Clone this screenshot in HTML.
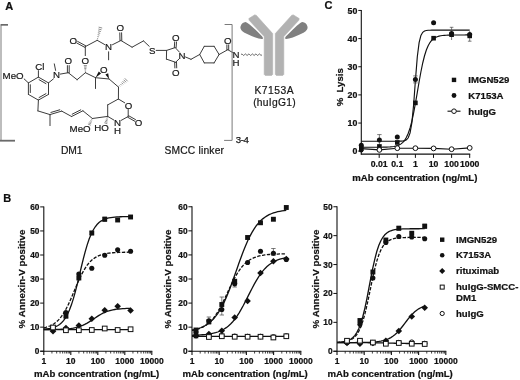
<!DOCTYPE html>
<html><head><meta charset="utf-8"><title>Figure</title>
<style>
html,body{margin:0;padding:0;background:#fff;}
svg{display:block;font-family:"Liberation Sans",sans-serif;}
</style></head><body>
<svg width="520" height="380" viewBox="0 0 520 380">
<rect width="520" height="380" fill="#fff"/>
<g id="structure">
<line x1="28.4" y1="82.9" x2="38.4" y2="77.1" stroke="#3c3c3c" stroke-width="1.0" stroke-linecap="round"/>
<line x1="38.4" y1="77.1" x2="48.5" y2="82.9" stroke="#3c3c3c" stroke-width="1.0" stroke-linecap="round"/>
<line x1="48.5" y1="82.9" x2="48.5" y2="94.4" stroke="#3c3c3c" stroke-width="1.0" stroke-linecap="round"/>
<line x1="48.5" y1="94.4" x2="38.4" y2="100.1" stroke="#3c3c3c" stroke-width="1.0" stroke-linecap="round"/>
<line x1="38.4" y1="100.1" x2="28.4" y2="94.4" stroke="#3c3c3c" stroke-width="1.0" stroke-linecap="round"/>
<line x1="28.4" y1="94.4" x2="28.4" y2="82.9" stroke="#3c3c3c" stroke-width="1.0" stroke-linecap="round"/>
<line x1="39.07" y1="79.68" x2="45.94" y2="83.62" stroke="#3c3c3c" stroke-width="1.0" stroke-linecap="round"/>
<line x1="45.95" y1="93.66" x2="39.08" y2="97.53" stroke="#3c3c3c" stroke-width="1.0" stroke-linecap="round"/>
<line x1="30.3" y1="92.56" x2="30.3" y2="84.74" stroke="#3c3c3c" stroke-width="1.0" stroke-linecap="round"/>
<text x="23.6" y="79.07" font-size="9.7" text-anchor="end" fill="#161616" stroke="#161616" stroke-width="0.2">MeO</text>
<line x1="24.2" y1="79" x2="28.4" y2="82.9" stroke="#3c3c3c" stroke-width="1.0" stroke-linecap="round"/>
<text x="39.8" y="69.57" font-size="9.7" text-anchor="middle" fill="#161616" stroke="#161616" stroke-width="0.2">Cl</text>
<line x1="38.4" y1="77.1" x2="38.4" y2="70.6" stroke="#3c3c3c" stroke-width="1.0" stroke-linecap="round"/>
<text x="56.6" y="78.47" font-size="9.7" text-anchor="middle" fill="#161616" stroke="#161616" stroke-width="0.2">N</text>
<line x1="48.5" y1="82.9" x2="53.4" y2="78.9" stroke="#3c3c3c" stroke-width="1.0" stroke-linecap="round"/>
<line x1="55.6" y1="70.4" x2="54.3" y2="63.9" stroke="#3c3c3c" stroke-width="1.0" stroke-linecap="round"/>
<line x1="60.3" y1="74.1" x2="68.3" y2="72.7" stroke="#3c3c3c" stroke-width="1.0" stroke-linecap="round"/>
<text x="68.3" y="64.07" font-size="9.7" text-anchor="middle" fill="#161616" stroke="#161616" stroke-width="0.2">O</text>
<line x1="69.2" y1="72.7" x2="69.2" y2="65.6" stroke="#3c3c3c" stroke-width="1.0" stroke-linecap="round"/>
<line x1="67.4" y1="72.7" x2="67.4" y2="65.6" stroke="#3c3c3c" stroke-width="1.0" stroke-linecap="round"/>
<line x1="68.3" y1="72.7" x2="77.1" y2="79.7" stroke="#3c3c3c" stroke-width="1.0" stroke-linecap="round"/>
<line x1="77.1" y1="79.7" x2="85.4" y2="72.7" stroke="#3c3c3c" stroke-width="1.0" stroke-linecap="round"/>
<text x="85.2" y="63.97" font-size="9.7" text-anchor="middle" fill="#161616" stroke="#161616" stroke-width="0.2">O</text>
<line x1="85.89" y1="71.27" x2="84.87" y2="71.29" stroke="#6a6a6a" stroke-width="0.75"/>
<line x1="86.13" y1="69.85" x2="84.59" y2="69.87" stroke="#6a6a6a" stroke-width="0.75"/>
<line x1="86.37" y1="68.43" x2="84.31" y2="68.45" stroke="#6a6a6a" stroke-width="0.75"/>
<line x1="86.61" y1="67" x2="84.03" y2="67.04" stroke="#6a6a6a" stroke-width="0.75"/>
<line x1="86.85" y1="65.58" x2="83.75" y2="65.62" stroke="#6a6a6a" stroke-width="0.75"/>
<line x1="85.3" y1="55.6" x2="85.3" y2="46.6" stroke="#3c3c3c" stroke-width="1.0" stroke-linecap="round"/>
<text x="73.3" y="44.27" font-size="9.7" text-anchor="middle" fill="#161616" stroke="#161616" stroke-width="0.2">O</text>
<line x1="85.73" y1="45.81" x2="77.63" y2="41.41" stroke="#3c3c3c" stroke-width="1.0" stroke-linecap="round"/>
<line x1="84.87" y1="47.39" x2="76.77" y2="42.99" stroke="#3c3c3c" stroke-width="1.0" stroke-linecap="round"/>
<line x1="85.3" y1="46.6" x2="97.2" y2="40.3" stroke="#3c3c3c" stroke-width="1.0" stroke-linecap="round"/>
<line x1="98.12" y1="38.6" x2="97.19" y2="38.37" stroke="#6a6a6a" stroke-width="0.75"/>
<line x1="98.8" y1="36.84" x2="97.43" y2="36.5" stroke="#6a6a6a" stroke-width="0.75"/>
<line x1="99.48" y1="35.09" x2="97.66" y2="34.63" stroke="#6a6a6a" stroke-width="0.75"/>
<line x1="100.16" y1="33.33" x2="97.9" y2="32.76" stroke="#6a6a6a" stroke-width="0.75"/>
<line x1="100.84" y1="31.57" x2="98.14" y2="30.89" stroke="#6a6a6a" stroke-width="0.75"/>
<line x1="101.52" y1="29.81" x2="98.37" y2="29.02" stroke="#6a6a6a" stroke-width="0.75"/>
<line x1="102.19" y1="28.05" x2="98.61" y2="27.15" stroke="#6a6a6a" stroke-width="0.75"/>
<text x="108.6" y="49.97" font-size="9.7" text-anchor="middle" fill="#161616" stroke="#161616" stroke-width="0.2">N</text>
<line x1="97.2" y1="40.3" x2="104.6" y2="44.5" stroke="#3c3c3c" stroke-width="1.0" stroke-linecap="round"/>
<line x1="108.6" y1="51.8" x2="108.6" y2="59.8" stroke="#3c3c3c" stroke-width="1.0" stroke-linecap="round"/>
<line x1="112.5" y1="44.7" x2="120.9" y2="40.5" stroke="#3c3c3c" stroke-width="1.0" stroke-linecap="round"/>
<text x="120.3" y="30.97" font-size="9.7" text-anchor="middle" fill="#161616" stroke="#161616" stroke-width="0.2">O</text>
<line x1="121.8" y1="40.48" x2="121.6" y2="32.78" stroke="#3c3c3c" stroke-width="1.0" stroke-linecap="round"/>
<line x1="120" y1="40.52" x2="119.8" y2="32.82" stroke="#3c3c3c" stroke-width="1.0" stroke-linecap="round"/>
<line x1="120.9" y1="40.5" x2="132.1" y2="47.2" stroke="#3c3c3c" stroke-width="1.0" stroke-linecap="round"/>
<line x1="132.1" y1="47.2" x2="143.5" y2="40.9" stroke="#3c3c3c" stroke-width="1.0" stroke-linecap="round"/>
<line x1="143.5" y1="40.9" x2="149.2" y2="46.3" stroke="#3c3c3c" stroke-width="1.0" stroke-linecap="round"/>
<text x="152.3" y="53.77" font-size="9.7" text-anchor="middle" fill="#161616" stroke="#161616" stroke-width="0.2">S</text>
<line x1="156.2" y1="50.4" x2="166.6" y2="50.4" stroke="#3c3c3c" stroke-width="1.0" stroke-linecap="round"/>
<line x1="166.6" y1="50.4" x2="175.2" y2="47.6" stroke="#3c3c3c" stroke-width="1.0" stroke-linecap="round"/>
<line x1="166.6" y1="50.4" x2="166.4" y2="59.1" stroke="#3c3c3c" stroke-width="1.0" stroke-linecap="round"/>
<line x1="166.4" y1="59.1" x2="175.6" y2="62.3" stroke="#3c3c3c" stroke-width="1.0" stroke-linecap="round"/>
<text x="182.1" y="58.67" font-size="9.7" text-anchor="middle" fill="#161616" stroke="#161616" stroke-width="0.2">N</text>
<line x1="175.2" y1="47.6" x2="179.5" y2="52.2" stroke="#3c3c3c" stroke-width="1.0" stroke-linecap="round"/>
<line x1="175.6" y1="62.3" x2="179.6" y2="58.4" stroke="#3c3c3c" stroke-width="1.0" stroke-linecap="round"/>
<text x="175.8" y="40.77" font-size="9.7" text-anchor="middle" fill="#161616" stroke="#161616" stroke-width="0.2">O</text>
<line x1="176.1" y1="47.66" x2="176.5" y2="41.96" stroke="#3c3c3c" stroke-width="1.0" stroke-linecap="round"/>
<line x1="174.3" y1="47.54" x2="174.7" y2="41.84" stroke="#3c3c3c" stroke-width="1.0" stroke-linecap="round"/>
<text x="175.8" y="75.77" font-size="9.7" text-anchor="middle" fill="#161616" stroke="#161616" stroke-width="0.2">O</text>
<line x1="174.7" y1="62.33" x2="174.9" y2="67.93" stroke="#3c3c3c" stroke-width="1.0" stroke-linecap="round"/>
<line x1="176.5" y1="62.27" x2="176.7" y2="67.87" stroke="#3c3c3c" stroke-width="1.0" stroke-linecap="round"/>
<line x1="185.5" y1="57" x2="191" y2="59.3" stroke="#3c3c3c" stroke-width="1.0" stroke-linecap="round"/>
<line x1="191" y1="59.3" x2="199.7" y2="54.5" stroke="#3c3c3c" stroke-width="1.0" stroke-linecap="round"/>
<line x1="199.7" y1="54.5" x2="204.3" y2="46.3" stroke="#3c3c3c" stroke-width="1.0" stroke-linecap="round"/>
<line x1="204.3" y1="46.3" x2="214.1" y2="46.3" stroke="#3c3c3c" stroke-width="1.0" stroke-linecap="round"/>
<line x1="214.1" y1="46.3" x2="219.1" y2="54.5" stroke="#3c3c3c" stroke-width="1.0" stroke-linecap="round"/>
<line x1="219.1" y1="54.5" x2="214.1" y2="62.9" stroke="#3c3c3c" stroke-width="1.0" stroke-linecap="round"/>
<line x1="214.1" y1="62.9" x2="204.3" y2="62.9" stroke="#3c3c3c" stroke-width="1.0" stroke-linecap="round"/>
<line x1="204.3" y1="62.9" x2="199.7" y2="54.5" stroke="#3c3c3c" stroke-width="1.0" stroke-linecap="round"/>
<line x1="219.1" y1="54.5" x2="227.8" y2="49.7" stroke="#3c3c3c" stroke-width="1.0" stroke-linecap="round"/>
<text x="227.8" y="43.57" font-size="9.7" text-anchor="middle" fill="#161616" stroke="#161616" stroke-width="0.2">O</text>
<line x1="228.7" y1="49.7" x2="228.7" y2="44.8" stroke="#3c3c3c" stroke-width="1.0" stroke-linecap="round"/>
<line x1="226.9" y1="49.7" x2="226.9" y2="44.8" stroke="#3c3c3c" stroke-width="1.0" stroke-linecap="round"/>
<text x="236" y="57.67" font-size="9.7" text-anchor="middle" fill="#161616" stroke="#161616" stroke-width="0.2">N</text>
<text x="236" y="65.67" font-size="9.7" text-anchor="middle" fill="#161616" stroke="#161616" stroke-width="0.2">H</text>
<line x1="227.8" y1="49.7" x2="232.6" y2="52.5" stroke="#3c3c3c" stroke-width="1.0" stroke-linecap="round"/>
<path d="M241 54.7 Q241.88 53.2 242.75 54.7 Q243.62 56.2 244.5 54.7 Q245.38 53.2 246.25 54.7 Q247.12 56.2 248 54.7 Q248.88 53.2 249.75 54.7 Q250.62 56.2 251.5 54.7 Q252.38 53.2 253.25 54.7 Q254.12 56.2 255 54.7 Q255.88 53.2 256.75 54.7 Q257.62 56.2 258.5 54.7 Q259.38 53.2 260.25 54.7 Q261.12 56.2 262 54.7" fill="none" stroke="#3c3c3c" stroke-width="0.8"/>
<line x1="85.4" y1="72.7" x2="95.5" y2="77.7" stroke="#3c3c3c" stroke-width="1.0" stroke-linecap="round"/>
<line x1="95.5" y1="77.7" x2="95.5" y2="88.5" stroke="#3c3c3c" stroke-width="1.0" stroke-linecap="round"/>
<line x1="95.5" y1="77.7" x2="109.1" y2="79" stroke="#3c3c3c" stroke-width="1.0" stroke-linecap="round"/>
<text x="103.8" y="72.77" font-size="9.7" text-anchor="middle" fill="#161616" stroke="#161616" stroke-width="0.2">O</text>
<path d="M95.5 77.7L101.04 73.58L98.76 71.62Z" fill="#111"/>
<path d="M109.1 79L108.17 73.28L105.43 74.52Z" fill="#111"/>
<line x1="109.1" y1="79" x2="118.5" y2="87.1" stroke="#3c3c3c" stroke-width="1.0" stroke-linecap="round"/>
<line x1="120.16" y1="86.28" x2="119.4" y2="85.48" stroke="#6a6a6a" stroke-width="0.75"/>
<line x1="121.65" y1="85.28" x2="120.48" y2="84.05" stroke="#6a6a6a" stroke-width="0.75"/>
<line x1="123.14" y1="84.28" x2="121.56" y2="82.62" stroke="#6a6a6a" stroke-width="0.75"/>
<line x1="124.63" y1="83.29" x2="122.64" y2="81.18" stroke="#6a6a6a" stroke-width="0.75"/>
<line x1="126.12" y1="82.29" x2="123.71" y2="79.75" stroke="#6a6a6a" stroke-width="0.75"/>
<line x1="127.61" y1="81.29" x2="124.79" y2="78.31" stroke="#6a6a6a" stroke-width="0.75"/>
<line x1="118.5" y1="87.1" x2="118.4" y2="99" stroke="#3c3c3c" stroke-width="1.0" stroke-linecap="round"/>
<text x="128.6" y="108.87" font-size="9.7" text-anchor="middle" fill="#161616" stroke="#161616" stroke-width="0.2">O</text>
<line x1="118.4" y1="99" x2="124.7" y2="102.8" stroke="#3c3c3c" stroke-width="1.0" stroke-linecap="round"/>
<line x1="128.2" y1="109" x2="128.2" y2="116.5" stroke="#3c3c3c" stroke-width="1.0" stroke-linecap="round"/>
<text x="117.5" y="126.17" font-size="9.7" text-anchor="middle" fill="#161616" stroke="#161616" stroke-width="0.2">N</text>
<text x="117.5" y="133.67" font-size="9.7" text-anchor="middle" fill="#161616" stroke="#161616" stroke-width="0.2">H</text>
<line x1="128.2" y1="116.5" x2="121.3" y2="120.3" stroke="#3c3c3c" stroke-width="1.0" stroke-linecap="round"/>
<line x1="113.8" y1="120" x2="107.7" y2="116.4" stroke="#3c3c3c" stroke-width="1.0" stroke-linecap="round"/>
<line x1="107.7" y1="116.4" x2="107.7" y2="104.9" stroke="#3c3c3c" stroke-width="1.0" stroke-linecap="round"/>
<line x1="107.7" y1="104.9" x2="118.4" y2="99" stroke="#3c3c3c" stroke-width="1.0" stroke-linecap="round"/>
<text x="138.6" y="126.17" font-size="9.7" text-anchor="middle" fill="#161616" stroke="#161616" stroke-width="0.2">O</text>
<line x1="127.76" y1="117.28" x2="134.66" y2="121.18" stroke="#3c3c3c" stroke-width="1.0" stroke-linecap="round"/>
<line x1="128.64" y1="115.72" x2="135.54" y2="119.62" stroke="#3c3c3c" stroke-width="1.0" stroke-linecap="round"/>
<text x="101.6" y="131.17" font-size="9.7" text-anchor="middle" fill="#161616" stroke="#161616" stroke-width="0.2">HO</text>
<line x1="106.83" y1="117.62" x2="107.81" y2="117.9" stroke="#6a6a6a" stroke-width="0.75"/>
<line x1="106.2" y1="118.91" x2="107.68" y2="119.33" stroke="#6a6a6a" stroke-width="0.75"/>
<line x1="105.57" y1="120.2" x2="107.55" y2="120.76" stroke="#6a6a6a" stroke-width="0.75"/>
<line x1="104.94" y1="121.49" x2="107.42" y2="122.19" stroke="#6a6a6a" stroke-width="0.75"/>
<line x1="104.31" y1="122.78" x2="107.29" y2="123.62" stroke="#6a6a6a" stroke-width="0.75"/>
<line x1="107.7" y1="116.4" x2="92.4" y2="118.5" stroke="#3c3c3c" stroke-width="1.0" stroke-linecap="round"/>
<line x1="91.33" y1="119.49" x2="92.23" y2="119.95" stroke="#6a6a6a" stroke-width="0.75"/>
<line x1="90.47" y1="120.59" x2="91.85" y2="121.29" stroke="#6a6a6a" stroke-width="0.75"/>
<line x1="89.62" y1="121.69" x2="91.46" y2="122.63" stroke="#6a6a6a" stroke-width="0.75"/>
<line x1="88.77" y1="122.8" x2="91.07" y2="123.96" stroke="#6a6a6a" stroke-width="0.75"/>
<line x1="87.92" y1="123.9" x2="90.68" y2="125.3" stroke="#6a6a6a" stroke-width="0.75"/>
<text x="90.6" y="131.87" font-size="9.7" text-anchor="end" fill="#161616" stroke="#161616" stroke-width="0.2">MeO</text>
<line x1="92.4" y1="118.5" x2="82.9" y2="110.8" stroke="#3c3c3c" stroke-width="1.0" stroke-linecap="round"/>
<line x1="82.9" y1="110.8" x2="71.6" y2="116.5" stroke="#3c3c3c" stroke-width="1.0" stroke-linecap="round"/>
<line x1="80.73" y1="109.88" x2="72.15" y2="114.21" stroke="#3c3c3c" stroke-width="1.0" stroke-linecap="round"/>
<line x1="71.6" y1="116.5" x2="61.7" y2="111.1" stroke="#3c3c3c" stroke-width="1.0" stroke-linecap="round"/>
<line x1="61.7" y1="111.1" x2="50" y2="114.6" stroke="#3c3c3c" stroke-width="1.0" stroke-linecap="round"/>
<line x1="59.78" y1="109.8" x2="50.89" y2="112.46" stroke="#3c3c3c" stroke-width="1.0" stroke-linecap="round"/>
<line x1="50" y1="114.6" x2="50" y2="125.6" stroke="#3c3c3c" stroke-width="1.0" stroke-linecap="round"/>
<line x1="50" y1="114.6" x2="37.9" y2="110.9" stroke="#3c3c3c" stroke-width="1.0" stroke-linecap="round"/>
<line x1="37.9" y1="110.9" x2="38.4" y2="100.1" stroke="#3c3c3c" stroke-width="1.0" stroke-linecap="round"/>
<rect x="0" y="24.3" width="2" height="116.4" fill="#bdbdbd"/>
<rect x="0.8" y="24" width="7.2" height="1.7" fill="#6a6a6a"/>
<rect x="0" y="139.8" width="15" height="1.8" fill="#6a6a6a"/>
<path d="M224.6 24.5H232.1V140.4H224.1" fill="none" stroke="#7a7a7a" stroke-width="1"/>
<text x="235.8" y="142.8" font-size="9.7" fill="#161616" stroke="#161616" stroke-width="0.25" textLength="13">3-4</text>
<text x="71.8" y="154" font-size="10.3" text-anchor="middle" fill="#161616" stroke="#161616" stroke-width="0.2" textLength="21.5">DM1</text>
<text x="194.2" y="154" font-size="10.3" text-anchor="middle" fill="#161616" stroke="#161616" stroke-width="0.2" textLength="59.6">SMCC linker</text>
<text x="274" y="93.5" font-size="10.3" text-anchor="middle" fill="#161616" stroke="#161616" stroke-width="0.2" textLength="39">K7153A</text>
<text x="274.4" y="105.6" font-size="10.3" text-anchor="middle" fill="#161616" stroke="#161616" stroke-width="0.2" textLength="42.5">(huIgG1)</text>
<path d="M249.2 20.3 L248.8 18.6 L254.6 14.9 L256.2 15.2 L272.7 33.6 L272.7 74.4 L271.7 75.4 L265.2 75.4 L264.2 74.4 L264.2 36.6Z" fill="#b2b2b2" stroke="#b2b2b2" stroke-width="0.6" stroke-linejoin="round"/>
<path d="M245.6 21.9 Q248.5 22.3 262.2 36.6 Q263.6 38.6 262.4 39 Q258 39.4 244.5 32.8 Q239.4 29.6 240.6 26.2 Q241.8 22.2 245.6 21.9Z" fill="#808080"/>
<path d="M298.8 20.3 L299.2 18.6 L293.4 14.9 L291.8 15.2 L275.3 33.6 L275.3 74.4 L276.3 75.4 L282.8 75.4 L283.8 74.4 L283.8 36.6Z" fill="#b2b2b2" stroke="#b2b2b2" stroke-width="0.6" stroke-linejoin="round"/>
<path d="M302.4 21.9 Q299.5 22.3 285.8 36.6 Q284.4 38.6 285.6 39 Q290 39.4 303.5 32.8 Q308.6 29.6 307.4 26.2 Q306.2 22.2 302.4 21.9Z" fill="#808080"/>
</g>
<g id="charts">
<line x1="43.8" y1="206.4" x2="43.8" y2="351.7" stroke="#111" stroke-width="1.1" />
<line x1="40.2" y1="351.2" x2="43.8" y2="351.2" stroke="#111" stroke-width="1" />
<text x="39.4" y="354.2" font-size="8.3" font-weight="bold" text-anchor="end" fill="#111" stroke="#111" stroke-width="0.22" >0</text>
<line x1="40.2" y1="327.15" x2="43.8" y2="327.15" stroke="#111" stroke-width="1" />
<text x="39.4" y="330.15" font-size="8.3" font-weight="bold" text-anchor="end" fill="#111" stroke="#111" stroke-width="0.22" >10</text>
<line x1="40.2" y1="303.1" x2="43.8" y2="303.1" stroke="#111" stroke-width="1" />
<text x="39.4" y="306.1" font-size="8.3" font-weight="bold" text-anchor="end" fill="#111" stroke="#111" stroke-width="0.22" >20</text>
<line x1="40.2" y1="279.05" x2="43.8" y2="279.05" stroke="#111" stroke-width="1" />
<text x="39.4" y="282.05" font-size="8.3" font-weight="bold" text-anchor="end" fill="#111" stroke="#111" stroke-width="0.22" >30</text>
<line x1="40.2" y1="255" x2="43.8" y2="255" stroke="#111" stroke-width="1" />
<text x="39.4" y="258" font-size="8.3" font-weight="bold" text-anchor="end" fill="#111" stroke="#111" stroke-width="0.22" >40</text>
<line x1="40.2" y1="230.95" x2="43.8" y2="230.95" stroke="#111" stroke-width="1" />
<text x="39.4" y="233.95" font-size="8.3" font-weight="bold" text-anchor="end" fill="#111" stroke="#111" stroke-width="0.22" >50</text>
<line x1="40.2" y1="206.9" x2="43.8" y2="206.9" stroke="#111" stroke-width="1" />
<text x="39.4" y="209.9" font-size="8.3" font-weight="bold" text-anchor="end" fill="#111" stroke="#111" stroke-width="0.22" >60</text>
<line x1="40.2" y1="351.2" x2="152.3" y2="351.2" stroke="#111" stroke-width="1.1" />
<line x1="43.8" y1="351.2" x2="43.8" y2="354.9" stroke="#111" stroke-width="1.1" />
<text x="43.8" y="364" font-size="8.5" font-weight="bold" text-anchor="middle" fill="#111" stroke="#111" stroke-width="0.22" >1</text>
<line x1="51.93" y1="351.2" x2="51.93" y2="353.5" stroke="#111" stroke-width="0.8" />
<line x1="56.68" y1="351.2" x2="56.68" y2="353.5" stroke="#111" stroke-width="0.8" />
<line x1="60.06" y1="351.2" x2="60.06" y2="353.5" stroke="#111" stroke-width="0.8" />
<line x1="62.67" y1="351.2" x2="62.67" y2="353.5" stroke="#111" stroke-width="0.8" />
<line x1="64.81" y1="351.2" x2="64.81" y2="353.5" stroke="#111" stroke-width="0.8" />
<line x1="66.62" y1="351.2" x2="66.62" y2="353.5" stroke="#111" stroke-width="0.8" />
<line x1="68.18" y1="351.2" x2="68.18" y2="353.5" stroke="#111" stroke-width="0.8" />
<line x1="69.56" y1="351.2" x2="69.56" y2="353.5" stroke="#111" stroke-width="0.8" />
<line x1="70.8" y1="351.2" x2="70.8" y2="354.9" stroke="#111" stroke-width="1.1" />
<text x="70.8" y="364" font-size="8.5" font-weight="bold" text-anchor="middle" fill="#111" stroke="#111" stroke-width="0.22" >10</text>
<line x1="78.93" y1="351.2" x2="78.93" y2="353.5" stroke="#111" stroke-width="0.8" />
<line x1="83.68" y1="351.2" x2="83.68" y2="353.5" stroke="#111" stroke-width="0.8" />
<line x1="87.06" y1="351.2" x2="87.06" y2="353.5" stroke="#111" stroke-width="0.8" />
<line x1="89.67" y1="351.2" x2="89.67" y2="353.5" stroke="#111" stroke-width="0.8" />
<line x1="91.81" y1="351.2" x2="91.81" y2="353.5" stroke="#111" stroke-width="0.8" />
<line x1="93.62" y1="351.2" x2="93.62" y2="353.5" stroke="#111" stroke-width="0.8" />
<line x1="95.18" y1="351.2" x2="95.18" y2="353.5" stroke="#111" stroke-width="0.8" />
<line x1="96.56" y1="351.2" x2="96.56" y2="353.5" stroke="#111" stroke-width="0.8" />
<line x1="97.8" y1="351.2" x2="97.8" y2="354.9" stroke="#111" stroke-width="1.1" />
<text x="97.8" y="364" font-size="8.5" font-weight="bold" text-anchor="middle" fill="#111" stroke="#111" stroke-width="0.22" >100</text>
<line x1="105.93" y1="351.2" x2="105.93" y2="353.5" stroke="#111" stroke-width="0.8" />
<line x1="110.68" y1="351.2" x2="110.68" y2="353.5" stroke="#111" stroke-width="0.8" />
<line x1="114.06" y1="351.2" x2="114.06" y2="353.5" stroke="#111" stroke-width="0.8" />
<line x1="116.67" y1="351.2" x2="116.67" y2="353.5" stroke="#111" stroke-width="0.8" />
<line x1="118.81" y1="351.2" x2="118.81" y2="353.5" stroke="#111" stroke-width="0.8" />
<line x1="120.62" y1="351.2" x2="120.62" y2="353.5" stroke="#111" stroke-width="0.8" />
<line x1="122.18" y1="351.2" x2="122.18" y2="353.5" stroke="#111" stroke-width="0.8" />
<line x1="123.56" y1="351.2" x2="123.56" y2="353.5" stroke="#111" stroke-width="0.8" />
<line x1="124.8" y1="351.2" x2="124.8" y2="354.9" stroke="#111" stroke-width="1.1" />
<text x="124.8" y="364" font-size="8.5" font-weight="bold" text-anchor="middle" fill="#111" stroke="#111" stroke-width="0.22" >1000</text>
<line x1="132.93" y1="351.2" x2="132.93" y2="353.5" stroke="#111" stroke-width="0.8" />
<line x1="137.68" y1="351.2" x2="137.68" y2="353.5" stroke="#111" stroke-width="0.8" />
<line x1="141.06" y1="351.2" x2="141.06" y2="353.5" stroke="#111" stroke-width="0.8" />
<line x1="143.67" y1="351.2" x2="143.67" y2="353.5" stroke="#111" stroke-width="0.8" />
<line x1="145.81" y1="351.2" x2="145.81" y2="353.5" stroke="#111" stroke-width="0.8" />
<line x1="147.62" y1="351.2" x2="147.62" y2="353.5" stroke="#111" stroke-width="0.8" />
<line x1="149.18" y1="351.2" x2="149.18" y2="353.5" stroke="#111" stroke-width="0.8" />
<line x1="150.56" y1="351.2" x2="150.56" y2="353.5" stroke="#111" stroke-width="0.8" />
<line x1="151.8" y1="351.2" x2="151.8" y2="354.9" stroke="#111" stroke-width="1.1" />
<text x="151.8" y="364" font-size="8.5" font-weight="bold" text-anchor="middle" fill="#111" stroke="#111" stroke-width="0.22" >10000</text>
<text x="96.6" y="376.6" font-size="9.6" font-weight="bold" text-anchor="middle" fill="#111" stroke="#111" stroke-width="0.22" >mAb concentration (ng/mL)</text>
<text transform="translate(24.5,279) rotate(-90)" font-size="9.75" font-weight="bold" text-anchor="middle" fill="#111" stroke="#111" stroke-width="0.22">% Annexin-V positive</text>
<polyline points="43.8,329.56 45.77,329.56 47.74,329.56 49.72,329.56 51.69,329.56 53.66,329.56 55.63,329.56 57.61,329.56 59.58,329.56 61.55,329.56 63.52,329.56 65.49,329.56 67.47,329.56 69.44,329.56 71.41,329.56 73.38,329.56 75.36,329.56 77.33,329.56 79.3,329.56 81.27,329.56 83.25,329.56 85.22,329.56 87.19,329.56 89.16,329.56 91.13,329.56 93.11,329.56 95.08,329.56 97.05,329.56 99.02,329.56 101,329.56 102.97,329.56 104.94,329.56 106.91,329.56 108.88,329.56 110.86,329.56 112.83,329.56 114.8,329.56 116.77,329.56 118.75,329.56 120.72,329.56 122.69,329.56 124.66,329.56 126.64,329.56 128.61,329.56 130.58,329.56" fill="none" stroke="#111" stroke-width="1.3"/>
<polyline points="43.8,329.52 45.77,329.51 47.74,329.5 49.72,329.48 51.69,329.46 53.66,329.43 55.63,329.39 57.61,329.35 59.58,329.29 61.55,329.21 63.52,329.12 65.49,328.99 67.47,328.84 69.44,328.64 71.41,328.39 73.38,328.08 75.36,327.7 77.33,327.22 79.3,326.64 81.27,325.95 83.25,325.13 85.22,324.18 87.19,323.1 89.16,321.91 91.13,320.63 93.11,319.29 95.08,317.95 97.05,316.63 99.02,315.37 101,314.22 102.97,313.18 104.94,312.28 106.91,311.5 108.88,310.85 110.86,310.31 112.83,309.87 114.8,309.51 116.77,309.22 118.75,308.99 120.72,308.81 122.69,308.67 124.66,308.55 126.64,308.46 128.61,308.4 130.58,308.34" fill="none" stroke="#111" stroke-width="1.3"/>
<polyline points="43.8,327.81 45.77,327.35 47.74,326.76 49.72,326.02 51.69,325.1 53.66,323.96 55.63,322.56 57.61,320.84 59.58,318.77 61.55,316.3 63.52,313.41 65.49,310.07 67.47,306.3 69.44,302.15 71.41,297.7 73.38,293.05 75.36,288.33 77.33,283.69 79.3,279.25 81.27,275.12 83.25,271.38 85.22,268.07 87.19,265.2 89.16,262.76 91.13,260.71 93.11,259.02 95.08,257.63 97.05,256.5 99.02,255.6 101,254.87 102.97,254.29 104.94,253.83 106.91,253.46 108.88,253.18 110.86,252.95 112.83,252.77 114.8,252.63 116.77,252.52 118.75,252.43 120.72,252.36 122.69,252.31 124.66,252.27 126.64,252.23 128.61,252.21 130.58,252.19" fill="none" stroke="#111" stroke-width="1.3" stroke-dasharray="3.4 1.5"/>
<polyline points="43.8,329.06 45.77,328.89 47.74,328.66 49.72,328.35 51.69,327.94 53.66,327.39 55.63,326.67 57.61,325.71 59.58,324.44 61.55,322.79 63.52,320.64 65.49,317.89 67.47,314.41 69.44,310.09 71.41,304.85 73.38,298.66 75.36,291.59 77.33,283.81 79.3,275.57 81.27,267.23 83.25,259.13 85.22,251.6 87.19,244.87 89.16,239.05 91.13,234.18 93.11,230.2 95.08,227.02 97.05,224.52 99.02,222.58 101,221.09 102.97,219.96 104.94,219.1 106.91,218.45 108.88,217.96 110.86,217.59 112.83,217.32 114.8,217.12 116.77,216.96 118.75,216.85 120.72,216.77 122.69,216.7 124.66,216.66 126.64,216.62 128.61,216.6 130.58,216.58" fill="none" stroke="#111" stroke-width="1.3"/>
<line x1="104.72" y1="217.05" x2="104.72" y2="221.45" stroke="#444" stroke-width="0.7" />
<line x1="102.52" y1="217.05" x2="106.92" y2="217.05" stroke="#444" stroke-width="0.7" />
<line x1="102.52" y1="221.45" x2="106.92" y2="221.45" stroke="#444" stroke-width="0.7" />
<line x1="91.79" y1="231.2" x2="91.79" y2="234.8" stroke="#444" stroke-width="0.7" />
<line x1="89.59" y1="231.2" x2="93.99" y2="231.2" stroke="#444" stroke-width="0.7" />
<line x1="89.59" y1="234.8" x2="93.99" y2="234.8" stroke="#444" stroke-width="0.7" />
<line x1="65.93" y1="311.5" x2="65.93" y2="317.5" stroke="#444" stroke-width="0.7" />
<line x1="63.73" y1="311.5" x2="68.13" y2="311.5" stroke="#444" stroke-width="0.7" />
<line x1="63.73" y1="317.5" x2="68.13" y2="317.5" stroke="#444" stroke-width="0.7" />
<path d="M53 327.95L56.3 331.25L53 334.55L49.7 331.25Z" fill="#111"/>
<path d="M65.93 324.7L69.23 328L65.93 331.3L62.63 328Z" fill="#111"/>
<path d="M78.86 322.2L82.16 325.5L78.86 328.8L75.56 325.5Z" fill="#111"/>
<path d="M91.79 315.45L95.09 318.75L91.79 322.05L88.49 318.75Z" fill="#111"/>
<path d="M104.72 306.95L108.02 310.25L104.72 313.55L101.42 310.25Z" fill="#111"/>
<path d="M117.65 302.95L120.95 306.25L117.65 309.55L114.35 306.25Z" fill="#111"/>
<path d="M130.58 307.2L133.88 310.5L130.58 313.8L127.28 310.5Z" fill="#111"/>
<circle cx="53" cy="328" r="2.55" fill="#111"/>
<circle cx="65.93" cy="312.5" r="2.55" fill="#111"/>
<circle cx="78.86" cy="274" r="2.55" fill="#111"/>
<circle cx="91.79" cy="268.25" r="2.55" fill="#111"/>
<circle cx="104.72" cy="255.25" r="2.55" fill="#111"/>
<circle cx="117.65" cy="249.75" r="2.55" fill="#111"/>
<circle cx="130.58" cy="251.25" r="2.55" fill="#111"/>
<rect x="50.55" y="325.35" width="4.9" height="4.9" fill="#111"/>
<rect x="63.48" y="313.8" width="4.9" height="4.9" fill="#111"/>
<rect x="76.41" y="275.55" width="4.9" height="4.9" fill="#111"/>
<rect x="89.34" y="230.55" width="4.9" height="4.9" fill="#111"/>
<rect x="102.27" y="216.8" width="4.9" height="4.9" fill="#111"/>
<rect x="115.2" y="217.55" width="4.9" height="4.9" fill="#111"/>
<rect x="128.13" y="214.55" width="4.9" height="4.9" fill="#111"/>
<rect x="50.65" y="325.15" width="4.7" height="4.7" fill="#fff" stroke="#111" stroke-width="1"/>
<rect x="63.58" y="327.9" width="4.7" height="4.7" fill="#fff" stroke="#111" stroke-width="1"/>
<rect x="76.51" y="327.9" width="4.7" height="4.7" fill="#fff" stroke="#111" stroke-width="1"/>
<rect x="89.44" y="327.65" width="4.7" height="4.7" fill="#fff" stroke="#111" stroke-width="1"/>
<rect x="102.37" y="326.15" width="4.7" height="4.7" fill="#fff" stroke="#111" stroke-width="1"/>
<rect x="115.3" y="327.65" width="4.7" height="4.7" fill="#fff" stroke="#111" stroke-width="1"/>
<rect x="128.23" y="326.9" width="4.7" height="4.7" fill="#fff" stroke="#111" stroke-width="1"/>
<line x1="192" y1="206.27" x2="192" y2="351.75" stroke="#111" stroke-width="1.1" />
<line x1="188.4" y1="351.25" x2="192" y2="351.25" stroke="#111" stroke-width="1" />
<text x="187.6" y="354.25" font-size="8.3" font-weight="bold" text-anchor="end" fill="#111" stroke="#111" stroke-width="0.22" >0</text>
<line x1="188.4" y1="327.17" x2="192" y2="327.17" stroke="#111" stroke-width="1" />
<text x="187.6" y="330.17" font-size="8.3" font-weight="bold" text-anchor="end" fill="#111" stroke="#111" stroke-width="0.22" >10</text>
<line x1="188.4" y1="303.09" x2="192" y2="303.09" stroke="#111" stroke-width="1" />
<text x="187.6" y="306.09" font-size="8.3" font-weight="bold" text-anchor="end" fill="#111" stroke="#111" stroke-width="0.22" >20</text>
<line x1="188.4" y1="279.01" x2="192" y2="279.01" stroke="#111" stroke-width="1" />
<text x="187.6" y="282.01" font-size="8.3" font-weight="bold" text-anchor="end" fill="#111" stroke="#111" stroke-width="0.22" >30</text>
<line x1="188.4" y1="254.93" x2="192" y2="254.93" stroke="#111" stroke-width="1" />
<text x="187.6" y="257.93" font-size="8.3" font-weight="bold" text-anchor="end" fill="#111" stroke="#111" stroke-width="0.22" >40</text>
<line x1="188.4" y1="230.85" x2="192" y2="230.85" stroke="#111" stroke-width="1" />
<text x="187.6" y="233.85" font-size="8.3" font-weight="bold" text-anchor="end" fill="#111" stroke="#111" stroke-width="0.22" >50</text>
<line x1="188.4" y1="206.77" x2="192" y2="206.77" stroke="#111" stroke-width="1" />
<text x="187.6" y="209.77" font-size="8.3" font-weight="bold" text-anchor="end" fill="#111" stroke="#111" stroke-width="0.22" >60</text>
<line x1="188.4" y1="351.25" x2="301.3" y2="351.25" stroke="#111" stroke-width="1.1" />
<line x1="192" y1="351.25" x2="192" y2="354.95" stroke="#111" stroke-width="1.1" />
<text x="192" y="364.05" font-size="8.5" font-weight="bold" text-anchor="middle" fill="#111" stroke="#111" stroke-width="0.22" >1</text>
<line x1="200.19" y1="351.25" x2="200.19" y2="353.55" stroke="#111" stroke-width="0.8" />
<line x1="204.98" y1="351.25" x2="204.98" y2="353.55" stroke="#111" stroke-width="0.8" />
<line x1="208.38" y1="351.25" x2="208.38" y2="353.55" stroke="#111" stroke-width="0.8" />
<line x1="211.01" y1="351.25" x2="211.01" y2="353.55" stroke="#111" stroke-width="0.8" />
<line x1="213.17" y1="351.25" x2="213.17" y2="353.55" stroke="#111" stroke-width="0.8" />
<line x1="214.99" y1="351.25" x2="214.99" y2="353.55" stroke="#111" stroke-width="0.8" />
<line x1="216.56" y1="351.25" x2="216.56" y2="353.55" stroke="#111" stroke-width="0.8" />
<line x1="217.96" y1="351.25" x2="217.96" y2="353.55" stroke="#111" stroke-width="0.8" />
<line x1="219.2" y1="351.25" x2="219.2" y2="354.95" stroke="#111" stroke-width="1.1" />
<text x="219.2" y="364.05" font-size="8.5" font-weight="bold" text-anchor="middle" fill="#111" stroke="#111" stroke-width="0.22" >10</text>
<line x1="227.39" y1="351.25" x2="227.39" y2="353.55" stroke="#111" stroke-width="0.8" />
<line x1="232.18" y1="351.25" x2="232.18" y2="353.55" stroke="#111" stroke-width="0.8" />
<line x1="235.58" y1="351.25" x2="235.58" y2="353.55" stroke="#111" stroke-width="0.8" />
<line x1="238.21" y1="351.25" x2="238.21" y2="353.55" stroke="#111" stroke-width="0.8" />
<line x1="240.37" y1="351.25" x2="240.37" y2="353.55" stroke="#111" stroke-width="0.8" />
<line x1="242.19" y1="351.25" x2="242.19" y2="353.55" stroke="#111" stroke-width="0.8" />
<line x1="243.76" y1="351.25" x2="243.76" y2="353.55" stroke="#111" stroke-width="0.8" />
<line x1="245.16" y1="351.25" x2="245.16" y2="353.55" stroke="#111" stroke-width="0.8" />
<line x1="246.4" y1="351.25" x2="246.4" y2="354.95" stroke="#111" stroke-width="1.1" />
<text x="246.4" y="364.05" font-size="8.5" font-weight="bold" text-anchor="middle" fill="#111" stroke="#111" stroke-width="0.22" >100</text>
<line x1="254.59" y1="351.25" x2="254.59" y2="353.55" stroke="#111" stroke-width="0.8" />
<line x1="259.38" y1="351.25" x2="259.38" y2="353.55" stroke="#111" stroke-width="0.8" />
<line x1="262.78" y1="351.25" x2="262.78" y2="353.55" stroke="#111" stroke-width="0.8" />
<line x1="265.41" y1="351.25" x2="265.41" y2="353.55" stroke="#111" stroke-width="0.8" />
<line x1="267.57" y1="351.25" x2="267.57" y2="353.55" stroke="#111" stroke-width="0.8" />
<line x1="269.39" y1="351.25" x2="269.39" y2="353.55" stroke="#111" stroke-width="0.8" />
<line x1="270.96" y1="351.25" x2="270.96" y2="353.55" stroke="#111" stroke-width="0.8" />
<line x1="272.36" y1="351.25" x2="272.36" y2="353.55" stroke="#111" stroke-width="0.8" />
<line x1="273.6" y1="351.25" x2="273.6" y2="354.95" stroke="#111" stroke-width="1.1" />
<text x="273.6" y="364.05" font-size="8.5" font-weight="bold" text-anchor="middle" fill="#111" stroke="#111" stroke-width="0.22" >1000</text>
<line x1="281.79" y1="351.25" x2="281.79" y2="353.55" stroke="#111" stroke-width="0.8" />
<line x1="286.58" y1="351.25" x2="286.58" y2="353.55" stroke="#111" stroke-width="0.8" />
<line x1="289.98" y1="351.25" x2="289.98" y2="353.55" stroke="#111" stroke-width="0.8" />
<line x1="292.61" y1="351.25" x2="292.61" y2="353.55" stroke="#111" stroke-width="0.8" />
<line x1="294.77" y1="351.25" x2="294.77" y2="353.55" stroke="#111" stroke-width="0.8" />
<line x1="296.59" y1="351.25" x2="296.59" y2="353.55" stroke="#111" stroke-width="0.8" />
<line x1="298.16" y1="351.25" x2="298.16" y2="353.55" stroke="#111" stroke-width="0.8" />
<line x1="299.56" y1="351.25" x2="299.56" y2="353.55" stroke="#111" stroke-width="0.8" />
<line x1="300.8" y1="351.25" x2="300.8" y2="354.95" stroke="#111" stroke-width="1.1" />
<text x="300.8" y="364.05" font-size="8.5" font-weight="bold" text-anchor="middle" fill="#111" stroke="#111" stroke-width="0.22" >10000</text>
<text x="245.2" y="376.65" font-size="9.6" font-weight="bold" text-anchor="middle" fill="#111" stroke="#111" stroke-width="0.22" >mAb concentration (ng/mL)</text>
<text transform="translate(171.3,279) rotate(-90)" font-size="9.75" font-weight="bold" text-anchor="middle" fill="#111" stroke="#111" stroke-width="0.22">% Annexin-V positive</text>
<polyline points="192,336.32 194.14,336.32 196.29,336.32 198.43,336.32 200.57,336.32 202.72,336.32 204.86,336.32 207,336.32 209.15,336.32 211.29,336.32 213.43,336.32 215.57,336.32 217.72,336.32 219.86,336.32 222,336.32 224.15,336.32 226.29,336.32 228.43,336.32 230.58,336.32 232.72,336.32 234.86,336.32 237.01,336.32 239.15,336.32 241.29,336.32 243.44,336.32 245.58,336.32 247.72,336.32 249.87,336.32 252.01,336.32 254.15,336.32 256.3,336.32 258.44,336.32 260.58,336.32 262.73,336.32 264.87,336.32 267.01,336.32 269.15,336.32 271.3,336.32 273.44,336.32 275.58,336.32 277.73,336.32 279.87,336.32 282.01,336.32 284.16,336.32 286.3,336.32" fill="none" stroke="#111" stroke-width="1.3"/>
<polyline points="192,335.31 194.14,335.24 196.29,335.16 198.43,335.05 200.57,334.93 202.72,334.77 204.86,334.57 207,334.33 209.15,334.03 211.29,333.67 213.43,333.22 215.57,332.68 217.72,332.01 219.86,331.2 222,330.22 224.15,329.05 226.29,327.64 228.43,325.97 230.58,324.01 232.72,321.72 234.86,319.09 237.01,316.12 239.15,312.79 241.29,309.16 243.44,305.25 245.58,301.14 247.72,296.9 249.87,292.64 252.01,288.45 254.15,284.42 256.3,280.63 258.44,277.14 260.58,273.97 262.73,271.15 264.87,268.68 267.01,266.55 269.15,264.72 271.3,263.18 273.44,261.88 275.58,260.8 277.73,259.9 279.87,259.16 282.01,258.55 284.16,258.05 286.3,257.64" fill="none" stroke="#111" stroke-width="1.3"/>
<polyline points="192,330.42 194.14,330.01 196.29,329.51 198.43,328.87 200.57,328.09 202.72,327.11 204.86,325.92 207,324.46 209.15,322.69 211.29,320.58 213.43,318.09 215.57,315.19 217.72,311.87 219.86,308.14 222,304.06 224.15,299.7 226.29,295.16 228.43,290.55 230.58,286 232.72,281.64 234.86,277.56 237.01,273.84 239.15,270.52 241.29,267.62 243.44,265.12 245.58,263.01 247.72,261.25 249.87,259.79 252.01,258.6 254.15,257.62 256.3,256.84 258.44,256.2 260.58,255.7 262.73,255.29 264.87,254.97 267.01,254.71 269.15,254.51 271.3,254.34 273.44,254.21 275.58,254.11 277.73,254.03 279.87,253.97 282.01,253.92 284.16,253.88 286.3,253.85" fill="none" stroke="#111" stroke-width="1.3" stroke-dasharray="3.4 1.5"/>
<polyline points="192,330.04 194.14,329.62 196.29,329.11 198.43,328.49 200.57,327.74 202.72,326.85 204.86,325.77 207,324.48 209.15,322.94 211.29,321.12 213.43,318.97 215.57,316.46 217.72,313.55 219.86,310.2 222,306.39 224.15,302.11 226.29,297.37 228.43,292.21 230.58,286.66 232.72,280.82 234.86,274.78 237.01,268.66 239.15,262.58 241.29,256.66 243.44,250.99 245.58,245.67 247.72,240.77 249.87,236.32 252.01,232.33 254.15,228.81 256.3,225.74 258.44,223.08 260.58,220.81 262.73,218.87 264.87,217.23 267.01,215.85 269.15,214.7 271.3,213.74 273.44,212.94 275.58,212.27 277.73,211.73 279.87,211.27 282.01,210.9 284.16,210.59 286.3,210.34" fill="none" stroke="#111" stroke-width="1.3"/>
<line x1="221.8" y1="297" x2="221.8" y2="315" stroke="#444" stroke-width="0.7" />
<line x1="219.6" y1="297" x2="224" y2="297" stroke="#444" stroke-width="0.7" />
<line x1="219.6" y1="315" x2="224" y2="315" stroke="#444" stroke-width="0.7" />
<line x1="208.9" y1="317" x2="208.9" y2="324" stroke="#444" stroke-width="0.7" />
<line x1="206.7" y1="317" x2="211.1" y2="317" stroke="#444" stroke-width="0.7" />
<line x1="206.7" y1="324" x2="211.1" y2="324" stroke="#444" stroke-width="0.7" />
<line x1="234.7" y1="281" x2="234.7" y2="287" stroke="#444" stroke-width="0.7" />
<line x1="232.5" y1="281" x2="236.9" y2="281" stroke="#444" stroke-width="0.7" />
<line x1="232.5" y1="287" x2="236.9" y2="287" stroke="#444" stroke-width="0.7" />
<line x1="273.4" y1="248.5" x2="273.4" y2="255.5" stroke="#444" stroke-width="0.7" />
<line x1="271.2" y1="248.5" x2="275.6" y2="248.5" stroke="#444" stroke-width="0.7" />
<line x1="271.2" y1="255.5" x2="275.6" y2="255.5" stroke="#444" stroke-width="0.7" />
<path d="M196 332.2L199.3 335.5L196 338.8L192.7 335.5Z" fill="#111"/>
<path d="M208.9 330.7L212.2 334L208.9 337.3L205.6 334Z" fill="#111"/>
<path d="M221.8 327.45L225.1 330.75L221.8 334.05L218.5 330.75Z" fill="#111"/>
<path d="M234.7 314.2L238 317.5L234.7 320.8L231.4 317.5Z" fill="#111"/>
<path d="M247.6 297.7L250.9 301L247.6 304.3L244.3 301Z" fill="#111"/>
<path d="M260.5 269.7L263.8 273L260.5 276.3L257.2 273Z" fill="#111"/>
<path d="M273.4 257.95L276.7 261.25L273.4 264.55L270.1 261.25Z" fill="#111"/>
<path d="M286.3 255.7L289.6 259L286.3 262.3L283 259Z" fill="#111"/>
<circle cx="196" cy="332.5" r="2.55" fill="#111"/>
<circle cx="208.9" cy="320.75" r="2.55" fill="#111"/>
<circle cx="221.8" cy="309.5" r="2.55" fill="#111"/>
<circle cx="234.7" cy="283.75" r="2.55" fill="#111"/>
<circle cx="247.6" cy="262.5" r="2.55" fill="#111"/>
<circle cx="260.5" cy="251.25" r="2.55" fill="#111"/>
<circle cx="273.4" cy="253.25" r="2.55" fill="#111"/>
<circle cx="286.3" cy="259.5" r="2.55" fill="#111"/>
<rect x="193.55" y="327.55" width="4.9" height="4.9" fill="#111"/>
<rect x="206.45" y="319.3" width="4.9" height="4.9" fill="#111"/>
<rect x="219.35" y="302.05" width="4.9" height="4.9" fill="#111"/>
<rect x="232.25" y="278.8" width="4.9" height="4.9" fill="#111"/>
<rect x="245.15" y="235.05" width="4.9" height="4.9" fill="#111"/>
<rect x="258.05" y="220.3" width="4.9" height="4.9" fill="#111"/>
<rect x="270.95" y="216.8" width="4.9" height="4.9" fill="#111"/>
<rect x="283.85" y="205.05" width="4.9" height="4.9" fill="#111"/>
<circle cx="208.9" cy="336.3" r="2.3" fill="#fff" stroke="#111" stroke-width="1"/>
<circle cx="221.8" cy="335.8" r="2.3" fill="#fff" stroke="#111" stroke-width="1"/>
<circle cx="234.7" cy="336.3" r="2.3" fill="#fff" stroke="#111" stroke-width="1"/>
<circle cx="247.6" cy="336.5" r="2.3" fill="#fff" stroke="#111" stroke-width="1"/>
<circle cx="260.5" cy="336.5" r="2.3" fill="#fff" stroke="#111" stroke-width="1"/>
<circle cx="273.4" cy="336.9" r="2.3" fill="#fff" stroke="#111" stroke-width="1"/>
<circle cx="286.3" cy="336" r="2.3" fill="#fff" stroke="#111" stroke-width="1"/>
<rect x="206.55" y="334.65" width="4.7" height="4.7" fill="#fff" stroke="#111" stroke-width="1"/>
<rect x="219.45" y="333.9" width="4.7" height="4.7" fill="#fff" stroke="#111" stroke-width="1"/>
<rect x="232.35" y="334.4" width="4.7" height="4.7" fill="#fff" stroke="#111" stroke-width="1"/>
<rect x="245.25" y="334.4" width="4.7" height="4.7" fill="#fff" stroke="#111" stroke-width="1"/>
<rect x="258.15" y="334.4" width="4.7" height="4.7" fill="#fff" stroke="#111" stroke-width="1"/>
<rect x="271.05" y="335.15" width="4.7" height="4.7" fill="#fff" stroke="#111" stroke-width="1"/>
<rect x="283.95" y="333.9" width="4.7" height="4.7" fill="#fff" stroke="#111" stroke-width="1"/>
<rect x="193.7" y="333.7" width="4.6" height="4.6" fill="#111"/>
<line x1="337" y1="206.25" x2="337" y2="351.75" stroke="#111" stroke-width="1.1" />
<line x1="333.4" y1="351.25" x2="337" y2="351.25" stroke="#111" stroke-width="1" />
<text x="332.6" y="354.25" font-size="8.3" font-weight="bold" text-anchor="end" fill="#111" stroke="#111" stroke-width="0.22" >0</text>
<line x1="333.4" y1="322.35" x2="337" y2="322.35" stroke="#111" stroke-width="1" />
<text x="332.6" y="325.35" font-size="8.3" font-weight="bold" text-anchor="end" fill="#111" stroke="#111" stroke-width="0.22" >10</text>
<line x1="333.4" y1="293.45" x2="337" y2="293.45" stroke="#111" stroke-width="1" />
<text x="332.6" y="296.45" font-size="8.3" font-weight="bold" text-anchor="end" fill="#111" stroke="#111" stroke-width="0.22" >20</text>
<line x1="333.4" y1="264.55" x2="337" y2="264.55" stroke="#111" stroke-width="1" />
<text x="332.6" y="267.55" font-size="8.3" font-weight="bold" text-anchor="end" fill="#111" stroke="#111" stroke-width="0.22" >30</text>
<line x1="333.4" y1="235.65" x2="337" y2="235.65" stroke="#111" stroke-width="1" />
<text x="332.6" y="238.65" font-size="8.3" font-weight="bold" text-anchor="end" fill="#111" stroke="#111" stroke-width="0.22" >40</text>
<line x1="333.4" y1="206.75" x2="337" y2="206.75" stroke="#111" stroke-width="1" />
<text x="332.6" y="209.75" font-size="8.3" font-weight="bold" text-anchor="end" fill="#111" stroke="#111" stroke-width="0.22" >50</text>
<line x1="333.4" y1="351.25" x2="446.3" y2="351.25" stroke="#111" stroke-width="1.1" />
<line x1="337" y1="351.25" x2="337" y2="354.95" stroke="#111" stroke-width="1.1" />
<text x="337" y="364.05" font-size="8.5" font-weight="bold" text-anchor="middle" fill="#111" stroke="#111" stroke-width="0.22" >1</text>
<line x1="345.19" y1="351.25" x2="345.19" y2="353.55" stroke="#111" stroke-width="0.8" />
<line x1="349.98" y1="351.25" x2="349.98" y2="353.55" stroke="#111" stroke-width="0.8" />
<line x1="353.38" y1="351.25" x2="353.38" y2="353.55" stroke="#111" stroke-width="0.8" />
<line x1="356.01" y1="351.25" x2="356.01" y2="353.55" stroke="#111" stroke-width="0.8" />
<line x1="358.17" y1="351.25" x2="358.17" y2="353.55" stroke="#111" stroke-width="0.8" />
<line x1="359.99" y1="351.25" x2="359.99" y2="353.55" stroke="#111" stroke-width="0.8" />
<line x1="361.56" y1="351.25" x2="361.56" y2="353.55" stroke="#111" stroke-width="0.8" />
<line x1="362.96" y1="351.25" x2="362.96" y2="353.55" stroke="#111" stroke-width="0.8" />
<line x1="364.2" y1="351.25" x2="364.2" y2="354.95" stroke="#111" stroke-width="1.1" />
<text x="364.2" y="364.05" font-size="8.5" font-weight="bold" text-anchor="middle" fill="#111" stroke="#111" stroke-width="0.22" >10</text>
<line x1="372.39" y1="351.25" x2="372.39" y2="353.55" stroke="#111" stroke-width="0.8" />
<line x1="377.18" y1="351.25" x2="377.18" y2="353.55" stroke="#111" stroke-width="0.8" />
<line x1="380.58" y1="351.25" x2="380.58" y2="353.55" stroke="#111" stroke-width="0.8" />
<line x1="383.21" y1="351.25" x2="383.21" y2="353.55" stroke="#111" stroke-width="0.8" />
<line x1="385.37" y1="351.25" x2="385.37" y2="353.55" stroke="#111" stroke-width="0.8" />
<line x1="387.19" y1="351.25" x2="387.19" y2="353.55" stroke="#111" stroke-width="0.8" />
<line x1="388.76" y1="351.25" x2="388.76" y2="353.55" stroke="#111" stroke-width="0.8" />
<line x1="390.16" y1="351.25" x2="390.16" y2="353.55" stroke="#111" stroke-width="0.8" />
<line x1="391.4" y1="351.25" x2="391.4" y2="354.95" stroke="#111" stroke-width="1.1" />
<text x="391.4" y="364.05" font-size="8.5" font-weight="bold" text-anchor="middle" fill="#111" stroke="#111" stroke-width="0.22" >100</text>
<line x1="399.59" y1="351.25" x2="399.59" y2="353.55" stroke="#111" stroke-width="0.8" />
<line x1="404.38" y1="351.25" x2="404.38" y2="353.55" stroke="#111" stroke-width="0.8" />
<line x1="407.78" y1="351.25" x2="407.78" y2="353.55" stroke="#111" stroke-width="0.8" />
<line x1="410.41" y1="351.25" x2="410.41" y2="353.55" stroke="#111" stroke-width="0.8" />
<line x1="412.57" y1="351.25" x2="412.57" y2="353.55" stroke="#111" stroke-width="0.8" />
<line x1="414.39" y1="351.25" x2="414.39" y2="353.55" stroke="#111" stroke-width="0.8" />
<line x1="415.96" y1="351.25" x2="415.96" y2="353.55" stroke="#111" stroke-width="0.8" />
<line x1="417.36" y1="351.25" x2="417.36" y2="353.55" stroke="#111" stroke-width="0.8" />
<line x1="418.6" y1="351.25" x2="418.6" y2="354.95" stroke="#111" stroke-width="1.1" />
<text x="418.6" y="364.05" font-size="8.5" font-weight="bold" text-anchor="middle" fill="#111" stroke="#111" stroke-width="0.22" >1000</text>
<line x1="426.79" y1="351.25" x2="426.79" y2="353.55" stroke="#111" stroke-width="0.8" />
<line x1="431.58" y1="351.25" x2="431.58" y2="353.55" stroke="#111" stroke-width="0.8" />
<line x1="434.98" y1="351.25" x2="434.98" y2="353.55" stroke="#111" stroke-width="0.8" />
<line x1="437.61" y1="351.25" x2="437.61" y2="353.55" stroke="#111" stroke-width="0.8" />
<line x1="439.77" y1="351.25" x2="439.77" y2="353.55" stroke="#111" stroke-width="0.8" />
<line x1="441.59" y1="351.25" x2="441.59" y2="353.55" stroke="#111" stroke-width="0.8" />
<line x1="443.16" y1="351.25" x2="443.16" y2="353.55" stroke="#111" stroke-width="0.8" />
<line x1="444.56" y1="351.25" x2="444.56" y2="353.55" stroke="#111" stroke-width="0.8" />
<line x1="445.8" y1="351.25" x2="445.8" y2="354.95" stroke="#111" stroke-width="1.1" />
<text x="445.8" y="364.05" font-size="8.5" font-weight="bold" text-anchor="middle" fill="#111" stroke="#111" stroke-width="0.22" >10000</text>
<text x="390.2" y="376.65" font-size="9.6" font-weight="bold" text-anchor="middle" fill="#111" stroke="#111" stroke-width="0.22" >mAb concentration (ng/mL)</text>
<text transform="translate(318.9,279) rotate(-90)" font-size="9.75" font-weight="bold" text-anchor="middle" fill="#111" stroke="#111" stroke-width="0.22">% Annexin-V positive</text>
<polyline points="337,342.59 338.99,342.59 340.99,342.6 342.98,342.6 344.97,342.6 346.97,342.61 348.96,342.61 350.95,342.62 352.95,342.62 354.94,342.63 356.93,342.64 358.93,342.65 360.92,342.66 362.91,342.68 364.9,342.69 366.9,342.71 368.89,342.73 370.88,342.75 372.88,342.78 374.87,342.81 376.86,342.84 378.86,342.88 380.85,342.92 382.84,342.96 384.84,343 386.83,343.05 388.82,343.1 390.82,343.14 392.81,343.19 394.8,343.24 396.8,343.29 398.79,343.33 400.78,343.38 402.77,343.42 404.77,343.45 406.76,343.49 408.75,343.52 410.75,343.55 412.74,343.57 414.73,343.6 416.73,343.61 418.72,343.63 420.71,343.65 422.71,343.66 424.7,343.67" fill="none" stroke="#111" stroke-width="1.3"/>
<polyline points="337,342.58 338.99,342.57 340.99,342.57 342.98,342.57 344.97,342.57 346.97,342.56 348.96,342.56 350.95,342.55 352.95,342.55 354.94,342.54 356.93,342.52 358.93,342.5 360.92,342.48 362.91,342.45 364.9,342.41 366.9,342.36 368.89,342.29 370.88,342.2 372.88,342.08 374.87,341.93 376.86,341.74 378.86,341.48 380.85,341.15 382.84,340.73 384.84,340.19 386.83,339.51 388.82,338.66 390.82,337.6 392.81,336.3 394.8,334.75 396.8,332.92 398.79,330.83 400.78,328.5 402.77,325.99 404.77,323.38 406.76,320.76 408.75,318.22 410.75,315.84 412.74,313.69 414.73,311.8 416.73,310.18 418.72,308.83 420.71,307.72 422.71,306.81 424.7,306.1" fill="none" stroke="#111" stroke-width="1.3"/>
<polyline points="337,342.36 338.99,342.27 340.99,342.12 342.98,341.92 344.97,341.63 346.97,341.2 348.96,340.6 350.95,339.73 352.95,338.5 354.94,336.77 356.93,334.36 358.93,331.07 360.92,326.68 362.91,321 364.9,313.94 366.9,305.59 368.89,296.28 370.88,286.56 372.88,277.06 374.87,268.38 376.86,260.92 378.86,254.83 380.85,250.07 382.84,246.48 384.84,243.83 386.83,241.92 388.82,240.55 390.82,239.59 392.81,238.92 394.8,238.45 396.8,238.12 398.79,237.89 400.78,237.74 402.77,237.63 404.77,237.55 406.76,237.5 408.75,237.46 410.75,237.44 412.74,237.42 414.73,237.41 416.73,237.4 418.72,237.4 420.71,237.39 422.71,237.39 424.7,237.39" fill="none" stroke="#111" stroke-width="1.3" stroke-dasharray="3.4 1.5"/>
<polyline points="337,342.31 338.99,342.18 340.99,342.01 342.98,341.75 344.97,341.38 346.97,340.85 348.96,340.09 350.95,339.01 352.95,337.47 354.94,335.32 356.93,332.35 358.93,328.33 360.92,323.03 362.91,316.27 364.9,308.04 366.9,298.52 368.89,288.17 370.88,277.66 372.88,267.68 374.87,258.79 376.86,251.31 378.86,245.33 380.85,240.72 382.84,237.28 384.84,234.76 386.83,232.96 388.82,231.67 390.82,230.77 392.81,230.14 394.8,229.7 396.8,229.4 398.79,229.19 400.78,229.04 402.77,228.94 404.77,228.87 406.76,228.82 408.75,228.79 410.75,228.77 412.74,228.75 414.73,228.74 416.73,228.73 418.72,228.73 420.71,228.72 422.71,228.72 424.7,228.72" fill="none" stroke="#111" stroke-width="1.3"/>
<line x1="398.8" y1="226.25" x2="398.8" y2="230.25" stroke="#444" stroke-width="0.7" />
<line x1="396.6" y1="226.25" x2="401" y2="226.25" stroke="#444" stroke-width="0.7" />
<line x1="396.6" y1="230.25" x2="401" y2="230.25" stroke="#444" stroke-width="0.7" />
<line x1="424.7" y1="224.05" x2="424.7" y2="228.45" stroke="#444" stroke-width="0.7" />
<line x1="422.5" y1="224.05" x2="426.9" y2="224.05" stroke="#444" stroke-width="0.7" />
<line x1="422.5" y1="228.45" x2="426.9" y2="228.45" stroke="#444" stroke-width="0.7" />
<path d="M347 339.7L350.3 343L347 346.3L343.7 343Z" fill="#111"/>
<path d="M359.95 340.45L363.25 343.75L359.95 347.05L356.65 343.75Z" fill="#111"/>
<path d="M372.9 339.7L376.2 343L372.9 346.3L369.6 343Z" fill="#111"/>
<path d="M385.85 337.45L389.15 340.75L385.85 344.05L382.55 340.75Z" fill="#111"/>
<path d="M398.8 327.7L402.1 331L398.8 334.3L395.5 331Z" fill="#111"/>
<path d="M411.75 313.2L415.05 316.5L411.75 319.8L408.45 316.5Z" fill="#111"/>
<path d="M424.7 304.45L428 307.75L424.7 311.05L421.4 307.75Z" fill="#111"/>
<circle cx="347" cy="342.5" r="2.55" fill="#111"/>
<circle cx="359.95" cy="324.25" r="2.55" fill="#111"/>
<circle cx="372.9" cy="278" r="2.55" fill="#111"/>
<circle cx="385.85" cy="242.5" r="2.55" fill="#111"/>
<circle cx="398.8" cy="236.5" r="2.55" fill="#111"/>
<circle cx="411.75" cy="237" r="2.55" fill="#111"/>
<circle cx="424.7" cy="238.75" r="2.55" fill="#111"/>
<rect x="344.55" y="338.8" width="4.9" height="4.9" fill="#111"/>
<rect x="357.5" y="318.05" width="4.9" height="4.9" fill="#111"/>
<rect x="370.45" y="269.55" width="4.9" height="4.9" fill="#111"/>
<rect x="383.4" y="237.55" width="4.9" height="4.9" fill="#111"/>
<rect x="396.35" y="225.8" width="4.9" height="4.9" fill="#111"/>
<rect x="409.3" y="230.8" width="4.9" height="4.9" fill="#111"/>
<rect x="422.25" y="223.8" width="4.9" height="4.9" fill="#111"/>
<circle cx="347" cy="341.5" r="2.3" fill="#fff" stroke="#111" stroke-width="1"/>
<circle cx="359.95" cy="341.8" r="2.3" fill="#fff" stroke="#111" stroke-width="1"/>
<circle cx="372.9" cy="342.8" r="2.3" fill="#fff" stroke="#111" stroke-width="1"/>
<circle cx="385.85" cy="343.3" r="2.3" fill="#fff" stroke="#111" stroke-width="1"/>
<circle cx="398.8" cy="342.6" r="2.3" fill="#fff" stroke="#111" stroke-width="1"/>
<circle cx="411.75" cy="342.2" r="2.3" fill="#fff" stroke="#111" stroke-width="1"/>
<circle cx="424.7" cy="343.5" r="2.3" fill="#fff" stroke="#111" stroke-width="1"/>
<rect x="344.65" y="338.4" width="4.7" height="4.7" fill="#fff" stroke="#111" stroke-width="1"/>
<rect x="357.6" y="338.4" width="4.7" height="4.7" fill="#fff" stroke="#111" stroke-width="1"/>
<rect x="370.55" y="340.15" width="4.7" height="4.7" fill="#fff" stroke="#111" stroke-width="1"/>
<rect x="383.5" y="341.4" width="4.7" height="4.7" fill="#fff" stroke="#111" stroke-width="1"/>
<rect x="396.45" y="340.65" width="4.7" height="4.7" fill="#fff" stroke="#111" stroke-width="1"/>
<rect x="409.4" y="341.4" width="4.7" height="4.7" fill="#fff" stroke="#111" stroke-width="1"/>
<rect x="422.35" y="341.65" width="4.7" height="4.7" fill="#fff" stroke="#111" stroke-width="1"/>
<rect x="440" y="237.5" width="4.4" height="4.4" fill="#111"/>
<text x="456" y="243.1" font-size="9.6" font-weight="bold" text-anchor="start" fill="#111" stroke="#111" stroke-width="0.22" >IMGN529</text>
<circle cx="442.2" cy="255.3" r="2.3" fill="#111"/>
<text x="456" y="258.3" font-size="9.6" font-weight="bold" text-anchor="start" fill="#111" stroke="#111" stroke-width="0.22" >K7153A</text>
<path d="M442.2 268L445.2 271L442.2 274L439.2 271Z" fill="#111"/>
<text x="456" y="274.4" font-size="9.6" font-weight="bold" text-anchor="start" fill="#111" stroke="#111" stroke-width="0.22" >rituximab</text>
<rect x="440.2" y="285.1" width="4" height="4" fill="#fff" stroke="#111" stroke-width="1"/>
<text x="456" y="289.7" font-size="9.6" font-weight="bold" text-anchor="start" fill="#111" stroke="#111" stroke-width="0.22" >huIgG-SMCC-</text>
<text x="456" y="300.9" font-size="9.6" font-weight="bold" text-anchor="start" fill="#111" stroke="#111" stroke-width="0.22" >DM1</text>
<circle cx="442.2" cy="313.5" r="2.1" fill="#fff" stroke="#111" stroke-width="1"/>
<text x="456" y="316.5" font-size="9.6" font-weight="bold" text-anchor="start" fill="#111" stroke="#111" stroke-width="0.22" >huIgG</text>
<line x1="361.3" y1="9.95" x2="361.3" y2="154.6" stroke="#111" stroke-width="1.1" />
<line x1="358.3" y1="151.2" x2="361.3" y2="151.2" stroke="#111" stroke-width="1" />
<text x="357.3" y="154.4" font-size="8.8" font-weight="bold" text-anchor="end" fill="#111" stroke="#111" stroke-width="0.22" >0</text>
<line x1="358.3" y1="123.05" x2="361.3" y2="123.05" stroke="#111" stroke-width="1" />
<text x="357.3" y="126.25" font-size="8.8" font-weight="bold" text-anchor="end" fill="#111" stroke="#111" stroke-width="0.22" >10</text>
<line x1="358.3" y1="94.9" x2="361.3" y2="94.9" stroke="#111" stroke-width="1" />
<text x="357.3" y="98.1" font-size="8.8" font-weight="bold" text-anchor="end" fill="#111" stroke="#111" stroke-width="0.22" >20</text>
<line x1="358.3" y1="66.75" x2="361.3" y2="66.75" stroke="#111" stroke-width="1" />
<text x="357.3" y="69.95" font-size="8.8" font-weight="bold" text-anchor="end" fill="#111" stroke="#111" stroke-width="0.22" >30</text>
<line x1="358.3" y1="38.6" x2="361.3" y2="38.6" stroke="#111" stroke-width="1" />
<text x="357.3" y="41.8" font-size="8.8" font-weight="bold" text-anchor="end" fill="#111" stroke="#111" stroke-width="0.22" >40</text>
<line x1="358.3" y1="10.45" x2="361.3" y2="10.45" stroke="#111" stroke-width="1" />
<text x="357.3" y="13.65" font-size="8.8" font-weight="bold" text-anchor="end" fill="#111" stroke="#111" stroke-width="0.22" >50</text>
<line x1="360.8" y1="154.1" x2="470.2" y2="154.1" stroke="#111" stroke-width="1.1" />
<line x1="379.2" y1="154.1" x2="379.2" y2="157.9" stroke="#111" stroke-width="1" />
<text x="379.2" y="167" font-size="8.7" font-weight="bold" text-anchor="middle" fill="#111" stroke="#111" stroke-width="0.22" >0.01</text>
<line x1="397.3" y1="154.1" x2="397.3" y2="157.9" stroke="#111" stroke-width="1" />
<text x="397.3" y="167" font-size="8.7" font-weight="bold" text-anchor="middle" fill="#111" stroke="#111" stroke-width="0.22" >0.1</text>
<line x1="415.4" y1="154.1" x2="415.4" y2="157.9" stroke="#111" stroke-width="1" />
<text x="415.4" y="167" font-size="8.7" font-weight="bold" text-anchor="middle" fill="#111" stroke="#111" stroke-width="0.22" >1</text>
<line x1="433.5" y1="154.1" x2="433.5" y2="157.9" stroke="#111" stroke-width="1" />
<text x="433.5" y="167" font-size="8.7" font-weight="bold" text-anchor="middle" fill="#111" stroke="#111" stroke-width="0.22" >10</text>
<line x1="451.6" y1="154.1" x2="451.6" y2="157.9" stroke="#111" stroke-width="1" />
<text x="451.6" y="167" font-size="8.7" font-weight="bold" text-anchor="middle" fill="#111" stroke="#111" stroke-width="0.22" >100</text>
<line x1="469.7" y1="154.1" x2="469.7" y2="157.9" stroke="#111" stroke-width="1" />
<text x="469.7" y="167" font-size="8.7" font-weight="bold" text-anchor="middle" fill="#111" stroke="#111" stroke-width="0.22" >1000</text>
<text x="414.8" y="181" font-size="9.6" font-weight="bold" text-anchor="middle" fill="#111" stroke="#111" stroke-width="0.22" >mAb concentration (ng/mL)</text>
<text transform="translate(342.5,87.3) rotate(-90)" font-size="9.6" font-weight="bold" text-anchor="middle" fill="#111" stroke="#111" stroke-width="0.22">%&#160; Lysis</text>
<text x="324.4" y="9.4" font-size="11" font-weight="bold" text-anchor="start" fill="#111" stroke="#111" stroke-width="0.22" >C</text>
<polyline points="361.3,141.21 363.11,141.21 364.91,141.21 366.72,141.21 368.53,141.21 370.33,141.21 372.14,141.21 373.95,141.21 375.75,141.21 377.56,141.21 379.37,141.21 381.17,141.21 382.98,141.21 384.79,141.21 386.59,141.21 388.4,141.21 390.21,141.21 392.01,141.21 393.82,141.2 395.63,141.2 397.43,141.19 399.24,141.17 401.05,141.12 402.85,140.98 404.66,140.64 406.47,139.81 408.27,137.76 410.08,132.96 411.89,122.61 413.69,103.97 415.5,79.18 417.31,56.77 419.11,42.56 420.92,35.46 422.73,32.33 424.53,31.03 426.34,30.51 428.15,30.3 429.95,30.21 431.76,30.18 433.57,30.16 435.37,30.16 437.18,30.16 438.99,30.16 440.79,30.16 442.6,30.16 444.41,30.16 446.21,30.16 448.02,30.16 449.83,30.16 451.63,30.16 453.44,30.16 455.25,30.16 457.05,30.16 458.86,30.16 460.67,30.16 462.47,30.16 464.28,30.16 466.09,30.16 467.89,30.16 469.7,30.16" fill="none" stroke="#111" stroke-width="1.15"/>
<polyline points="361.3,147.26 363.11,147.26 364.91,147.26 366.72,147.26 368.53,147.26 370.33,147.25 372.14,147.25 373.95,147.25 375.75,147.24 377.56,147.23 379.37,147.22 381.17,147.21 382.98,147.18 384.79,147.15 386.59,147.1 388.4,147.02 390.21,146.91 392.01,146.75 393.82,146.51 395.63,146.17 397.43,145.67 399.24,144.94 401.05,143.9 402.85,142.4 404.66,140.29 406.47,137.33 408.27,133.3 410.08,127.93 411.89,121.04 413.69,112.62 415.5,102.89 417.31,92.35 419.11,81.73 420.92,71.75 422.73,62.99 424.53,55.74 426.34,50.03 428.15,45.7 429.95,42.52 431.76,40.23 433.57,38.61 435.37,37.47 437.18,36.68 438.99,36.13 440.79,35.76 442.6,35.5 444.41,35.32 446.21,35.2 448.02,35.12 449.83,35.06 451.63,35.02 453.44,35 455.25,34.98 457.05,34.97 458.86,34.96 460.67,34.95 462.47,34.95 464.28,34.95 466.09,34.94 467.89,34.94 469.7,34.94" fill="none" stroke="#111" stroke-width="1.15"/>
<polyline points="361.3,148.6 379.4,149.9 397.3,148.2 415.4,148.2 433.6,148.4 451.6,149.2 469.7,147.9" fill="none" stroke="#111" stroke-width="1.1"/>
<line x1="379.4" y1="134.6" x2="379.4" y2="145" stroke="#444" stroke-width="0.7" />
<line x1="377.2" y1="134.6" x2="381.6" y2="134.6" stroke="#444" stroke-width="0.7" />
<line x1="377.2" y1="145" x2="381.6" y2="145" stroke="#444" stroke-width="0.7" />
<line x1="415.4" y1="75.9" x2="415.4" y2="82.9" stroke="#444" stroke-width="0.7" />
<line x1="413.2" y1="75.9" x2="417.6" y2="75.9" stroke="#444" stroke-width="0.7" />
<line x1="413.2" y1="82.9" x2="417.6" y2="82.9" stroke="#444" stroke-width="0.7" />
<line x1="451.6" y1="27.3" x2="451.6" y2="40" stroke="#444" stroke-width="0.7" />
<line x1="449.8" y1="27.3" x2="453.4" y2="27.3" stroke="#444" stroke-width="0.7" />
<line x1="469.7" y1="31" x2="469.7" y2="41.2" stroke="#444" stroke-width="0.7" />
<line x1="467.9" y1="41.2" x2="471.5" y2="41.2" stroke="#444" stroke-width="0.7" />
<circle cx="361.3" cy="145.2" r="2.5" fill="#111"/>
<circle cx="379.4" cy="140.1" r="2.5" fill="#111"/>
<circle cx="397.3" cy="137.1" r="2.5" fill="#111"/>
<circle cx="415.4" cy="79.4" r="2.5" fill="#111"/>
<circle cx="433.6" cy="22.7" r="2.5" fill="#111"/>
<circle cx="451.6" cy="33.5" r="2.5" fill="#111"/>
<circle cx="469.7" cy="34.5" r="2.5" fill="#111"/>
<rect x="359" y="146" width="4.6" height="4.6" fill="#111"/>
<rect x="377.1" y="144.2" width="4.6" height="4.6" fill="#111"/>
<rect x="395" y="140.2" width="4.6" height="4.6" fill="#111"/>
<rect x="413.1" y="100.6" width="4.6" height="4.6" fill="#111"/>
<rect x="431.3" y="35.9" width="4.6" height="4.6" fill="#111"/>
<rect x="449.3" y="32.4" width="4.6" height="4.6" fill="#111"/>
<rect x="467.4" y="33.6" width="4.6" height="4.6" fill="#111"/>
<circle cx="379.4" cy="149.9" r="2.4" fill="#fff" stroke="#111" stroke-width="1"/>
<circle cx="397.3" cy="148.2" r="2.4" fill="#fff" stroke="#111" stroke-width="1"/>
<circle cx="415.4" cy="148.2" r="2.4" fill="#fff" stroke="#111" stroke-width="1"/>
<circle cx="433.6" cy="148.4" r="2.4" fill="#fff" stroke="#111" stroke-width="1"/>
<circle cx="451.6" cy="149.2" r="2.4" fill="#fff" stroke="#111" stroke-width="1"/>
<circle cx="469.7" cy="147.9" r="2.4" fill="#fff" stroke="#111" stroke-width="1"/>
<circle cx="361.2" cy="150.3" r="2.3" fill="#111"/>
<rect x="451.8" y="77.7" width="4.4" height="4.4" fill="#111"/>
<text x="468.3" y="83.3" font-size="9.6" font-weight="bold" text-anchor="start" fill="#111" stroke="#111" stroke-width="0.22" >IMGN529</text>
<circle cx="454" cy="95.5" r="2.4" fill="#111"/>
<text x="468.3" y="98.9" font-size="9.6" font-weight="bold" text-anchor="start" fill="#111" stroke="#111" stroke-width="0.22" >K7153A</text>
<line x1="447.5" y1="111.2" x2="460.5" y2="111.2" stroke="#111" stroke-width="1.1" />
<circle cx="454" cy="111.2" r="2.3" fill="#fff" stroke="#111" stroke-width="1"/>
<text x="468.3" y="114.6" font-size="9.6" font-weight="bold" text-anchor="start" fill="#111" stroke="#111" stroke-width="0.22" >huIgG</text>
<text x="3.2" y="201.8" font-size="11" font-weight="bold" text-anchor="start" fill="#111" stroke="#111" stroke-width="0.22" >B</text>
<text x="5.2" y="9.6" font-size="11" font-weight="bold" text-anchor="start" fill="#111" stroke="#111" stroke-width="0.22" >A</text>
</g>
</svg>
</body></html>
